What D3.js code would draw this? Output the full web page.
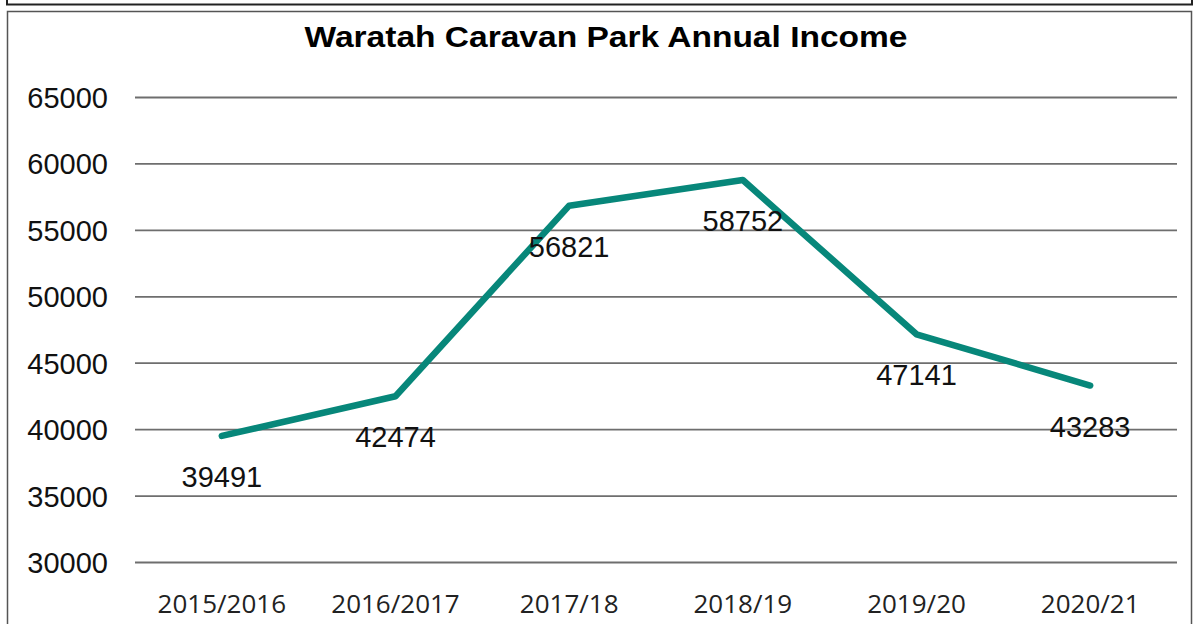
<!DOCTYPE html>
<html>
<head>
<meta charset="utf-8">
<script src="https://cdn.jsdelivr.net/npm/d3@7"></script>
<style>
  body { margin: 0; background: #fff; }
  svg { display: block; }
</style>
</head>
<body>
<div id="chart"></div>
<script>
// chart data
var years = ["2015/2016", "2016/2017", "2017/18", "2018/19", "2019/20", "2020/21"];
var income = [39491, 42474, 56821, 58752, 47141, 43283];
var yTicks = [30000, 35000, 40000, 45000, 50000, 55000, 60000, 65000];

var svgWidth = 1194;
var svgHeight = 624;

var margin = { top: 97, right: 17, bottom: 62, left: 135 };
var width = svgWidth - margin.left - margin.right;
var height = svgHeight - margin.top - margin.bottom;

var svg = d3.select("#chart")
  .append("svg")
  .attr("width", svgWidth)
  .attr("height", svgHeight);

// the two frame boxes
svg.append("rect")
  .attr("x", 7).attr("y", -10)
  .attr("width", 1185).attr("height", 14.5)
  .attr("fill", "none")
  .attr("stroke", "#222")
  .attr("stroke-width", 2);

svg.append("rect")
  .attr("x", 7.5).attr("y", 11.5)
  .attr("width", 1184).attr("height", 640)
  .attr("fill", "none")
  .attr("stroke", "#555")
  .attr("stroke-width", 1.5);

// title (stretched a bit wider, like the original)
svg.append("text")
  .attr("x", 606)
  .attr("y", 47)
  .attr("text-anchor", "middle")
  .attr("textLength", 603)
  .attr("lengthAdjust", "spacingAndGlyphs")
  .style("font-family", "'Liberation Sans', Arial, sans-serif")
  .style("font-weight", "bold")
  .style("font-size", "29px")
  .attr("fill", "#000")
  .text("Waratah Caravan Park Annual Income");

var chartGroup = svg.append("g")
  .attr("transform", `translate(${margin.left}, ${margin.top})`);

var xScale = d3.scaleBand()
  .domain(years)
  .range([0, width]);

var yScale = d3.scaleLinear()
  .domain([30000, 65000])
  .range([height, 0]);

// y axis with gridlines
var leftAxis = d3.axisLeft(yScale)
  .tickValues(yTicks)
  .tickSize(-width)
  .tickPadding(27)
  .tickFormat(d3.format("d"));

var yAxis = chartGroup.append("g").call(leftAxis);
yAxis.select(".domain").remove();
yAxis.selectAll(".tick line")
  .attr("stroke", "#6e6e6e")
  .attr("stroke-width", 1.8);
yAxis.selectAll(".tick text")
  .attr("dy", null)
  .attr("y", 10.5)
  .attr("fill", "#111")
  .style("font-family", "'Liberation Sans', Arial, sans-serif")
  .style("font-size", "29px");

// x axis labels
var bottomAxis = d3.axisBottom(xScale).tickSize(0);
var xAxis = chartGroup.append("g")
  .attr("transform", `translate(0, ${height})`)
  .call(bottomAxis);
xAxis.select(".domain").remove();
xAxis.selectAll(".tick text")
  .attr("dy", null)
  .attr("y", 51)
  .attr("fill", "#222")
  .style("font-family", "'Open Sans', 'Noto Sans', sans-serif")
  .style("font-size", "26px");

// income line
var line = d3.line()
  .x((d, i) => xScale(years[i]) + xScale.bandwidth() / 2)
  .y(d => yScale(d));

chartGroup.append("path")
  .datum(income)
  .attr("d", line)
  .attr("fill", "none")
  .attr("stroke", "#07877a")
  .attr("stroke-width", 6.5)
  .attr("stroke-linejoin", "round")
  .attr("stroke-linecap", "round");

// value labels below points
chartGroup.selectAll(".val")
  .data(income)
  .enter()
  .append("text")
  .attr("class", "val")
  .attr("x", (d, i) => xScale(years[i]) + xScale.bandwidth() / 2)
  .attr("y", d => yScale(d) + 51)
  .attr("text-anchor", "middle")
  .attr("fill", "#111")
  .style("font-family", "'Liberation Sans', Arial, sans-serif")
  .style("font-size", "29px")
  .text(d => d);
</script>
</body>
</html>
